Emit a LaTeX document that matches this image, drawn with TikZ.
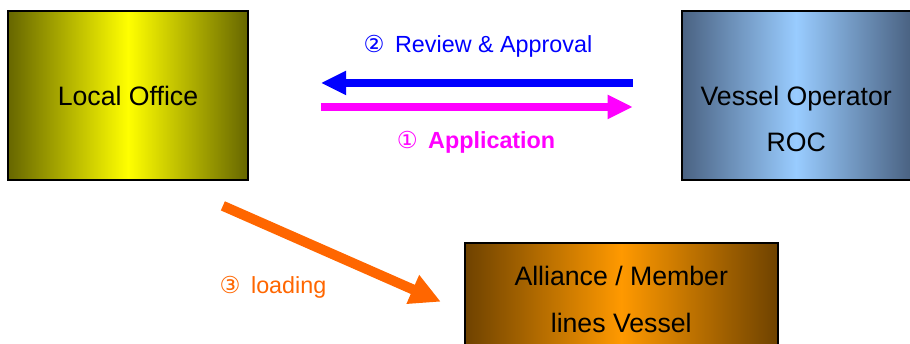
\documentclass[tikz,border=0pt]{standalone}
\usepackage{fontspec}
\setmainfont{Liberation Sans}
\newfontfamily\circfont{DejaVu Sans}
\usetikzlibrary{arrows.meta, positioning}

\definecolor{olivedark}{HTML}{666600}
\definecolor{officeyellow}{HTML}{FFFF00}
\definecolor{slatedark}{HTML}{4A6282}
\definecolor{skyblue}{HTML}{99CCFF}
\definecolor{browndark}{HTML}{6E4200}
\definecolor{amber}{HTML}{FF9900}
\definecolor{flowblue}{HTML}{0000FF}
\definecolor{flowmagenta}{HTML}{FF00FF}
\definecolor{floworange}{HTML}{FF6600}

\begin{document}
\begin{tikzpicture}[
				x=0.75pt, y=-0.75pt,
				box/.style={
					draw,
					line width=1.3pt,
					rectangle,
					align=center,
					inner sep=0pt,
					font=\fontsize{20}{35}\selectfont
				},
				officebox/.style={
					box,
					minimum width=180pt,
					minimum height=126.75pt,
					left color=olivedark, right color=olivedark, middle color=officeyellow
				},
				operatorbox/.style={
					box,
					minimum width=171.75pt,
					minimum height=126.75pt,
					left color=slatedark, right color=slatedark, middle color=skyblue
				},
				alliancebox/.style={
					box,
					minimum width=234.75pt,
					minimum height=85.5pt,
					left color=browndark, right color=browndark, middle color=amber
				},
				steplabel/.style={font=\fontsize{17.5}{20}\selectfont, inner sep=0pt},
				arrow/.style={-{Triangle[length=19pt,width=17pt]}, line width=6pt},
				bigarrow/.style={-{Triangle[length=23pt,width=22pt]}, line width=7.5pt}
				]
				
				\useasboundingbox (0,0) rectangle (910,343);
				\clip (0,0) rectangle (910,343);
				
				% Boxes
				\node[officebox] (local) at (128,95.5) {Local Office};
				\node[operatorbox, right=324pt of local,
					label={[box, draw=none, yshift=-17.6pt]center:{Vessel Operator\\ROC}}] (operator) {};
				\node[alliancebox, below right=45.75pt and 161.25pt of local] (alliance) {Alliance / Member\\lines Vessel};
				
				% Arrows
				\draw[arrow, flowblue, shorten <=36pt, shorten >=54pt]
					([yshift=9.4pt]operator.west) -- ([yshift=9.4pt]local.east);
				\draw[arrow, flowmagenta, shorten <=54pt, shorten >=36pt]
					([yshift=-8.6pt]local.east) -- ([yshift=-8.6pt]operator.west);
				\draw[bigarrow, floworange]
					([shift={(-26,25)}]local.south east) -- ([shift={(-23,2)}]alliance.west);
				
				% Labels
				\node[steplabel, text=flowblue] (review) at (478,46) {{\circfont ②}\hspace{0.45em}Review \& Approval};
				\node[steplabel, text=flowmagenta, font=\fontsize{17.5}{20}\selectfont\bfseries] (appl) at (476,142) {{\circfont\mdseries ①}\hspace{0.45em}Application};
				\node[steplabel, text=floworange] (loadtxt) at (273,287) {{\circfont ③}\hspace{0.45em}loading};
				
			\end{tikzpicture}
\end{document}
